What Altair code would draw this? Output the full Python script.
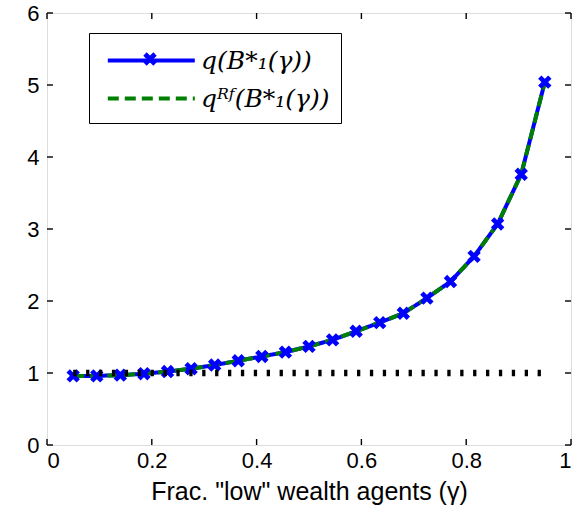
import altair as alt
import pandas as pd

# ---- data ----
gamma = [0.05, 0.095, 0.14, 0.185, 0.23, 0.275, 0.32, 0.365, 0.41, 0.455, 0.5,
         0.545, 0.59, 0.635, 0.68, 0.725, 0.77, 0.815, 0.86, 0.905, 0.95]
q_vals = [0.96, 0.96, 0.97, 0.99, 1.02, 1.06, 1.11, 1.17, 1.23, 1.29, 1.37,
          1.46, 1.58, 1.70, 1.83, 2.04, 2.27, 2.62, 3.07, 3.76, 5.04]
qrf_vals = [0.96, 0.96, 0.97, 0.99, 1.02, 1.06, 1.11, 1.17, 1.23, 1.29, 1.37,
            1.46, 1.58, 1.70, 1.83, 2.04, 2.27, 2.62, 3.07, 3.76, 5.04]
ref_x = [0.05, 0.95]
ref_y = [1.0, 1.0]
series_names = ["q(B*\u2081(\u03b3))", "q\u1d3f\u1da0(B*\u2081(\u03b3))"]
x_ticks = [0, 0.2, 0.4, 0.6, 0.8, 1]
y_ticks = [0, 1, 2, 3, 4, 5, 6]
x_title = 'Frac. "low" wealth agents (\u03b3)'

W, H = 524, 432
TICK = 6

df = pd.DataFrame({
    "gamma": gamma + gamma,
    "value": q_vals + qrf_vals,
    "series": [series_names[0]] * len(gamma) + [series_names[1]] * len(gamma),
})
df_q = pd.DataFrame({"gamma": gamma, "value": q_vals,
                     "marker": [series_names[0]] * len(gamma)})
df_ref = pd.DataFrame({"gx": ref_x, "gy": ref_y})
df_xt = pd.DataFrame({"t": x_ticks})
df_yt = pd.DataFrame({"t": y_ticks})

# bold "x" marker (two filled bars)
X_PATH = "M-1,-0.5L-0.5,-1L1,0.5L0.5,1Z M-1,0.5L0.5,-1L1,-0.5L-0.5,1Z"

xscale = alt.Scale(domain=[0, 1], nice=False)
yscale = alt.Scale(domain=[0, 6], nice=False)

ax_common = dict(grid=False, domain=False, ticks=False, tickSize=0,
                 labelFont="Liberation Sans", labelFontSize=22,
                 labelColor="black", titleFont="Liberation Sans", titleFontSize=25,
                 titleFontWeight="normal", titleColor="black")

x_bottom = alt.Axis(values=x_ticks, title=x_title, labelPadding=5, titlePadding=8,
                    labelExpr="datum.value == 0 ? '0' : datum.value == 1 ? '1' : format(datum.value, '.1f')",
                    **ax_common)
y_left = alt.Axis(values=y_ticks, title=None, labelPadding=8, **ax_common)

legend = alt.Legend(
    title=None, orient="none", legendX=42, legendY=20,
    symbolType="M-0.6,0H5.4", symbolSize=841, symbolStrokeWidth=4,
    labelFont="DejaVu Serif", labelFontStyle="italic", labelFontSize=25,
    labelColor="black", strokeColor="black", fillColor="white", padding=11,
    labelOffset=68, rowPadding=8, labelLimit=400,
)

marker_legend = alt.Legend(
    title=None, orient="none", legendX=96, legendY=39,
    symbolType=X_PATH, symbolSize=180, symbolFillColor="#0000ff",
    symbolStrokeWidth=0, symbolOpacity=1, labelExpr="''", padding=0,
)

lines = alt.Chart(df).mark_line(strokeWidth=4).encode(
    x=alt.X("gamma:Q", scale=xscale, axis=x_bottom),
    y=alt.Y("value:Q", scale=yscale, axis=y_left),
    color=alt.Color("series:N", scale=alt.Scale(domain=series_names, range=["#0000ff", "#008000"]),
                    legend=legend, sort=series_names),
    strokeDash=alt.StrokeDash("series:N", scale=alt.Scale(domain=series_names, range=[[1, 0], [11, 6]]),
                              legend=legend, sort=series_names),
    order=alt.Order("gamma:Q"),
)

markers = alt.Chart(df_q).mark_point(filled=True, size=180, color="#0000ff", opacity=1,
                                     strokeWidth=0).encode(
    x=alt.X("gamma:Q", scale=xscale, axis=x_bottom),
    y=alt.Y("value:Q", scale=yscale, axis=y_left),
    shape=alt.Shape("marker:N", scale=alt.Scale(domain=[series_names[0]], range=[X_PATH]),
                    legend=marker_legend),
)

dotted = alt.Chart(df_ref).mark_line(color="black", strokeWidth=6.5, strokeDash=[3.3, 9.6]).encode(
    x=alt.X("gx:Q", scale=xscale, axis=x_bottom),
    y=alt.Y("gy:Q", scale=yscale, axis=y_left),
)

# inward tick marks on all four sides of the box (positions from the tick arrays)
tick_style = dict(color="black", strokeWidth=1.4)
ticks_left = alt.Chart(df_yt).mark_rule(**tick_style).encode(
    y=alt.Y("t:Q", scale=yscale, axis=y_left), x=alt.value(0), x2=alt.value(TICK))
ticks_right = alt.Chart(df_yt).mark_rule(**tick_style).encode(
    y=alt.Y("t:Q", scale=yscale, axis=y_left), x=alt.value(W - TICK), x2=alt.value(W))
ticks_bottom = alt.Chart(df_xt).mark_rule(**tick_style).encode(
    x=alt.X("t:Q", scale=xscale, axis=x_bottom), y=alt.value(H - TICK), y2=alt.value(H))
ticks_top = alt.Chart(df_xt).mark_rule(**tick_style).encode(
    x=alt.X("t:Q", scale=xscale, axis=x_bottom), y=alt.value(0), y2=alt.value(TICK))

chart = alt.layer(
    lines, markers, dotted, ticks_left, ticks_right, ticks_bottom, ticks_top
).resolve_scale(shape="independent").properties(
    width=W, height=H,
    autosize=alt.AutoSizeParams(type="none"),
    padding={"left": 47, "top": 13, "right": 4, "bottom": 68},
).configure_view(stroke="black", strokeWidth=1.3).configure(background="white")

chart.save("out.html", embed_options={"renderer": "svg", "actions": False})
